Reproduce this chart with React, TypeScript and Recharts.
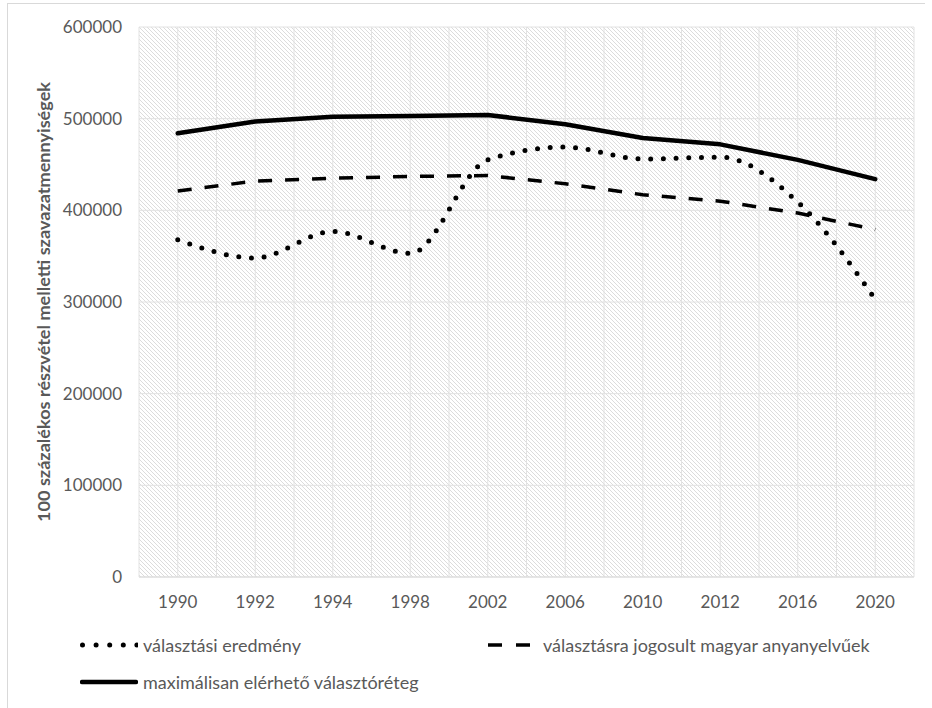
import React from 'react';
import { LineChart, Line, XAxis, YAxis, CartesianGrid, Legend } from 'recharts';

const years = ['1990', '1992', '1994', '1998', '2002', '2006', '2010', '2012', '2016', '2020'];
const valasztasiEredmeny = [368000, 348000, 377000, 353000, 455000, 469000, 456000, 458000, 409000, 303000];
const jogosultAnyanyelvuek = [421000, 432000, 435000, 437000, 438000, 429000, 417000, 410000, 397000, 379000];
const maxValasztoreteg = [484000, 497000, 502000, 503000, 504000, 494000, 479000, 472000, 455000, 434000];
const yTicks = [0, 100000, 200000, 300000, 400000, 500000, 600000];

const yTitle = '100 százalékos részvétel melletti szavazatmennyiségek';

const series = [
  { key: 'eredmeny', name: 'választási eredmény', values: valasztasiEredmeny },
  { key: 'jogosult', name: 'választásra jogosult magyar anyanyelvűek', values: jogosultAnyanyelvuek },
  { key: 'max', name: 'maximálisan elérhető választóréteg', values: maxValasztoreteg },
];

const data = years.map((year, i) => {
  const row: Record<string, string | number> = { year };
  series.forEach(s => { row[s.key] = s.values[i]; });
  return row;
});

const W = 932;
const H = 708;
const MARGIN = { top: 27, right: 18, left: 59, bottom: 0 };
const Y_AXIS_W = 80;
const PLOT_W = W - MARGIN.left - Y_AXIS_W - MARGIN.right;
const HALF_CAT = PLOT_W / (years.length * 2);
const FONT = 'Lato, "Open Sans", sans-serif';
const TEXT = '#595959';

const lineStyle: Record<string, any> = {
  eredmeny: { strokeWidth: 5, strokeDasharray: '0 12.7', strokeLinecap: 'round', type: 'monotone' },
  jogosult: { strokeWidth: 3.5, strokeDasharray: '14 13', strokeLinecap: 'butt', type: 'linear' },
  max: { strokeWidth: 4.5, strokeDasharray: undefined, strokeLinecap: 'round', type: 'linear' },
};

function YTitle(props: any) {
  const vb = props.viewBox || {};
  const cy = vb.y + vb.height / 2;
  const x = 50;
  return (
    <text
      x={x}
      y={cy}
      transform={`rotate(-90, ${x}, ${cy})`}
      textAnchor="middle"
      fontFamily={FONT}
      fontWeight="bold"
      fontSize={17}
      fill={TEXT}
      textLength={440}
      lengthAdjust="spacingAndGlyphs"
    >
      {yTitle}
    </text>
  );
}

function LegendIcon({ k }: { k: string }) {
  if (k === 'eredmeny') {
    return (
      <svg width={58} height={10}>
        <line x1={2.5} x2={57} y1={5} y2={5} stroke="#000" strokeWidth={5} strokeDasharray="0 13.6" strokeLinecap="round" />
      </svg>
    );
  }
  if (k === 'jogosult') {
    return (
      <svg width={58} height={10}>
        <line x1={8} x2={50} y1={5} y2={5} stroke="#000" strokeWidth={3.5} strokeDasharray="14 14" />
      </svg>
    );
  }
  return (
    <svg width={58} height={10}>
      <line x1={2} x2={56} y1={5} y2={5} stroke="#000" strokeWidth={4.5} strokeLinecap="round" />
    </svg>
  );
}

const legendPos: Record<string, { left: number; top: number }> = {
  eredmeny: { left: 80, top: 25 },
  jogosult: { left: 480, top: 25 },
  max: { left: 80, top: 62 },
};

function ChartLegend() {
  return (
    <div style={{ position: 'relative', width: W, height: 88 }}>
      {series.map(s => (
        <div
          key={s.key}
          style={{
            position: 'absolute',
            left: legendPos[s.key].left,
            top: legendPos[s.key].top - 12,
            height: 24,
            display: 'flex',
            alignItems: 'center',
            gap: 5,
            fontFamily: FONT,
            fontSize: 18,
            color: TEXT,
            whiteSpace: 'nowrap',
          }}
        >
          <LegendIcon k={s.key} />
          <span>{s.name}</span>
        </div>
      ))}
    </div>
  );
}

export default function App() {
  return (
    <div style={{ position: 'absolute', left: 0, top: 0, width: W, height: H, background: '#fff' }}>
      <svg width={0} height={0} style={{ position: 'absolute' }}>
        <defs>
          <pattern id="hatch" patternUnits="userSpaceOnUse" width={4} height={4}>
            <path d="M-1,-1 L5,5 M3,-1 L5,1 M-1,3 L1,5" stroke="#dcdcdc" strokeWidth={1} />
          </pattern>
        </defs>
      </svg>
      <div
        style={{
          position: 'absolute',
          left: 7,
          top: 3,
          width: W - 14,
          height: H - 3,
          borderLeft: '1px solid #d9d9d9',
          borderTop: '1px solid #d9d9d9',
          boxSizing: 'border-box',
        }}
      />
      <div style={{ position: 'absolute', left: 0, top: 0 }}>
        <LineChart width={W} height={H} data={data} margin={MARGIN}>
          <CartesianGrid
            stroke="#e2e2e2"
            strokeWidth={1}
            fill="url(#hatch)"
            fillOpacity={1}
            verticalCoordinatesGenerator={({ offset }: any) =>
              Array.from({ length: years.length * 2 + 1 }, (_, i) => offset.left + (i * offset.width) / (years.length * 2))
            }
          />
          <XAxis
            dataKey="year"
            type="category"
            height={43}
            padding={{ left: HALF_CAT, right: HALF_CAT }}
            axisLine={{ stroke: '#d9d9d9' }}
            tickLine={false}
            tickSize={0}
            tickMargin={19}
            tick={{ fontFamily: FONT, fontSize: 17, fill: TEXT }}
            interval={0}
          />
          <YAxis
            width={Y_AXIS_W}
            domain={[0, 600000]}
            ticks={yTicks}
            axisLine={false}
            tickLine={false}
            tickSize={0}
            tickMargin={17}
            tick={{ fontFamily: FONT, fontSize: 17, fill: TEXT }}
            label={<YTitle />}
          />
          <Legend verticalAlign="bottom" wrapperStyle={{ left: 0, width: W, height: 88 }} content={<ChartLegend />} />
          {series.map(s => (
            <Line
              key={s.key}
              dataKey={s.key}
              name={s.name}
              type={lineStyle[s.key].type}
              stroke="#000"
              strokeWidth={lineStyle[s.key].strokeWidth}
              strokeDasharray={lineStyle[s.key].strokeDasharray}
              strokeLinecap={lineStyle[s.key].strokeLinecap}
              strokeLinejoin="round"
              dot={false}
              activeDot={false}
              isAnimationActive={false}
            />
          ))}
        </LineChart>
      </div>
    </div>
  );
}
